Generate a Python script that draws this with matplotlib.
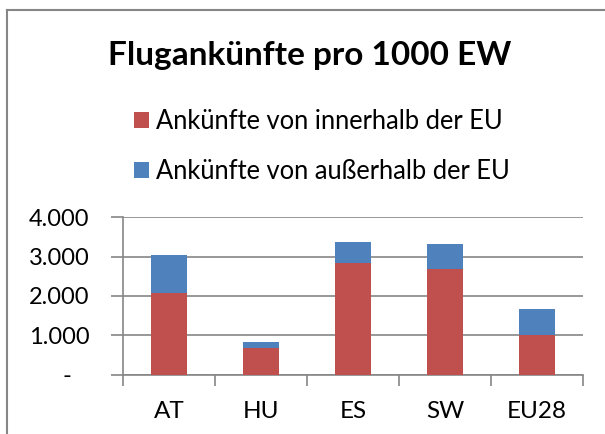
import matplotlib
matplotlib.use("Agg")
import matplotlib.pyplot as plt
from matplotlib.patches import Patch
from matplotlib.lines import Line2D
import numpy as np

categories = ["AT", "HU", "ES", "SW", "EU28"]
inner_eu = [2085, 680, 2830, 2680, 1017]
outer_eu = [965, 160, 543, 630, 653]
ytick_vals = [0, 1000, 2000, 3000, 4000]
ytick_labels = ["-   ", "1.000", "2.000", "3.000", "4.000"]
title = "Flugankünfte pro 1000 EW"
legend_labels = ["Ankünfte von innerhalb der EU", "Ankünfte von außerhalb der EU"]

plt.rcParams['font.family'] = ['Lato', 'DejaVu Sans']

W, H = 605, 434
fig = plt.figure(figsize=(W / 100, H / 100), dpi=100)
ax = fig.add_axes([123 / W, 1 - 374.7 / H, (583 - 123) / W, (374.7 - 217.3) / H])

red = "#C0504D"
blue = "#4F81BD"
grey = "#868686"

x = np.arange(len(categories))
ax.bar(x, inner_eu, width=0.4, color=red, zorder=3)
ax.bar(x, outer_eu, width=0.4, bottom=inner_eu, color=blue, zorder=3)

ax.set_xlim(-0.5, len(categories) - 0.5)
ax.set_ylim(0, 4000)
ax.set_yticks(ytick_vals)
ax.set_yticklabels(ytick_labels)
ax.yaxis.grid(True, color=grey, linewidth=1.2, zorder=0)
ax.set_axisbelow(True)

ax.set_xticks(x)
ax.set_xticklabels(categories)
ax.set_xticks(np.arange(-0.5, len(categories), 1.0), minor=True)
ax.tick_params(axis='x', which='major', length=0, pad=19, labelsize=17.5)
ax.tick_params(axis='x', which='minor', length=8, width=1.2, color=grey, direction='out')
ax.tick_params(axis='y', which='major', length=9, width=1.2, color=grey, pad=15, labelsize=17)

for s in ['top', 'right']:
    ax.spines[s].set_visible(False)
for s in ['left', 'bottom']:
    ax.spines[s].set_color(grey)
    ax.spines[s].set_linewidth(1.2)

fig.text(310 / W, 1 - 56 / H, title, ha='center', va='center', fontsize=24, fontweight='bold')

handles = [Patch(facecolor=red, edgecolor='none'), Patch(facecolor=blue, edgecolor='none')]
fig.legend(handles, legend_labels, loc='upper left', bbox_to_anchor=(134 / W, 1 - 109 / H),
           frameon=False, fontsize=18.4, handlelength=0.59, handleheight=0.59,
           handletextpad=0.28, labelspacing=0.98, borderaxespad=0, borderpad=0)

# chart border (left and top visible)
fig.add_artist(Line2D([7 / W, 7 / W], [0, 1 - 10 / H], color=grey, linewidth=1.5))
fig.add_artist(Line2D([7 / W, 1], [1 - 10 / H, 1 - 10 / H], color=grey, linewidth=1.5))

fig.savefig("out.png", dpi=100)
